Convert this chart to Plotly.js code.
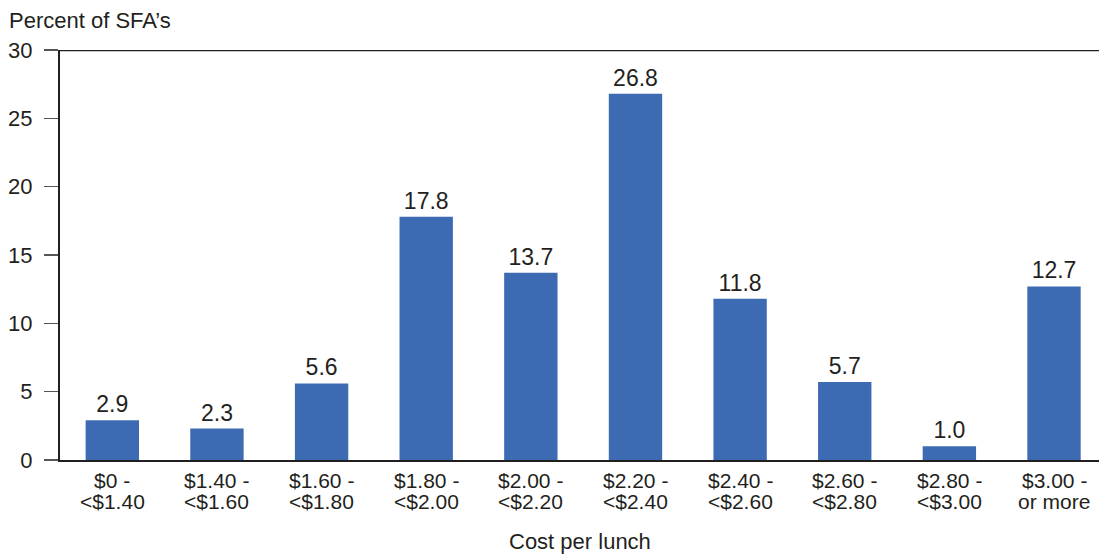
<!DOCTYPE html>
<html>
<head>
<meta charset="utf-8">
<script src="https://cdn.plot.ly/plotly-3.0.1.min.js"></script>
<style>
  html, body { margin: 0; padding: 0; background: #fff; }
  #chart { width: 1099px; height: 557px; }
</style>
</head>
<body>
<div id="chart"></div>
<script>
// Share of school food authorities by cost per lunch
const categories = [
  "$0 - <$1.40", "$1.40 - <$1.60", "$1.60 - <$1.80", "$1.80 - <$2.00",
  "$2.00 - <$2.20", "$2.20 - <$2.40", "$2.40 - <$2.60", "$2.60 - <$2.80",
  "$2.80 - <$3.00", "$3.00 - or more"
];
const labelLine1 = ["$0 -", "$1.40 -", "$1.60 -", "$1.80 -", "$2.00 -",
                    "$2.20 -", "$2.40 -", "$2.60 -", "$2.80 -", "$3.00 -"];
const labelLine2 = ["<$1.40", "<$1.60", "<$1.80", "<$2.00", "<$2.20",
                    "<$2.40", "<$2.60", "<$2.80", "<$3.00", "or more"];
const percentValues = [2.9, 2.3, 5.6, 17.8, 13.7, 26.8, 11.8, 5.7, 1.0, 12.7];
const yTicks = [0, 5, 10, 15, 20, 25, 30];

const textColor = "#231f20";
const fontFamily = "Liberation Sans, Arial, Helvetica, sans-serif";

const trace = {
  type: "bar",
  x: categories,
  y: percentValues,
  width: 0.51,
  marker: { color: "#3c6bb3", line: { width: 0 } },
  text: percentValues.map(v => v.toFixed(1)),
  textposition: "outside",
  cliponaxis: false,
  textfont: { family: fontFamily, size: 23, color: textColor },
  hoverinfo: "x+y"
};

// Two-line category labels, tighter leading than <br> gives
const catLabel = (txt, x, shift) => ({
  text: txt, xref: "x", yref: "paper", x: x, y: 0,
  yshift: shift, xanchor: "center", yanchor: "middle",
  showarrow: false,
  font: { family: fontFamily, size: 21, color: textColor }
});
const categoryAnnotations = [];
categories.forEach((c, i) => {
  categoryAnnotations.push(catLabel(labelLine1[i], c, -20.5));
  categoryAnnotations.push(catLabel(labelLine2[i], c, -41.5));
});

const layout = {
  width: 1099,
  height: 557,
  margin: { l: 60, r: 0, t: 50, b: 97 },
  paper_bgcolor: "#fff",
  plot_bgcolor: "#fff",
  showlegend: false,
  font: { family: fontFamily, color: textColor },
  xaxis: {
    type: "category",
    range: [-0.5, 9.43],
    showline: true,
    linecolor: textColor,
    linewidth: 2,
    ticks: "",
    showticklabels: false,
    showgrid: false,
    zeroline: false
  },
  yaxis: {
    range: [0, 30],
    tickvals: yTicks,
    ticktext: yTicks.map(String),
    showline: true,
    linecolor: textColor,
    linewidth: 2,
    ticks: "outside",
    ticklen: 14,
    tickwidth: 1.5,
    tickcolor: "#555",
    ticklabelstandoff: 7,
    showgrid: false,
    zeroline: false,
    tickfont: { family: fontFamily, size: 22, color: textColor },
    fixedrange: true
  },
  shapes: [{
    type: "line", xref: "paper", yref: "y",
    x0: 0, x1: 1, y0: 30, y1: 30,
    line: { color: textColor, width: 2.5 }
  }],
  annotations: [
    {
      text: "Percent of SFA’s",
      xref: "paper", yref: "paper",
      x: 0, xshift: -53, y: 1, yshift: 30,
      xanchor: "left", yanchor: "middle",
      showarrow: false,
      font: { family: fontFamily, size: 22, color: textColor }
    },
    {
      text: "Cost per lunch",
      xref: "paper", yref: "paper",
      x: 0.5, y: 0, yshift: -81,
      xanchor: "center", yanchor: "middle",
      showarrow: false,
      font: { family: fontFamily, size: 22, color: textColor }
    }
  ].concat(categoryAnnotations)
};

Plotly.newPlot("chart", [trace], layout, { displayModeBar: false, staticPlot: true });
</script>
</body>
</html>
